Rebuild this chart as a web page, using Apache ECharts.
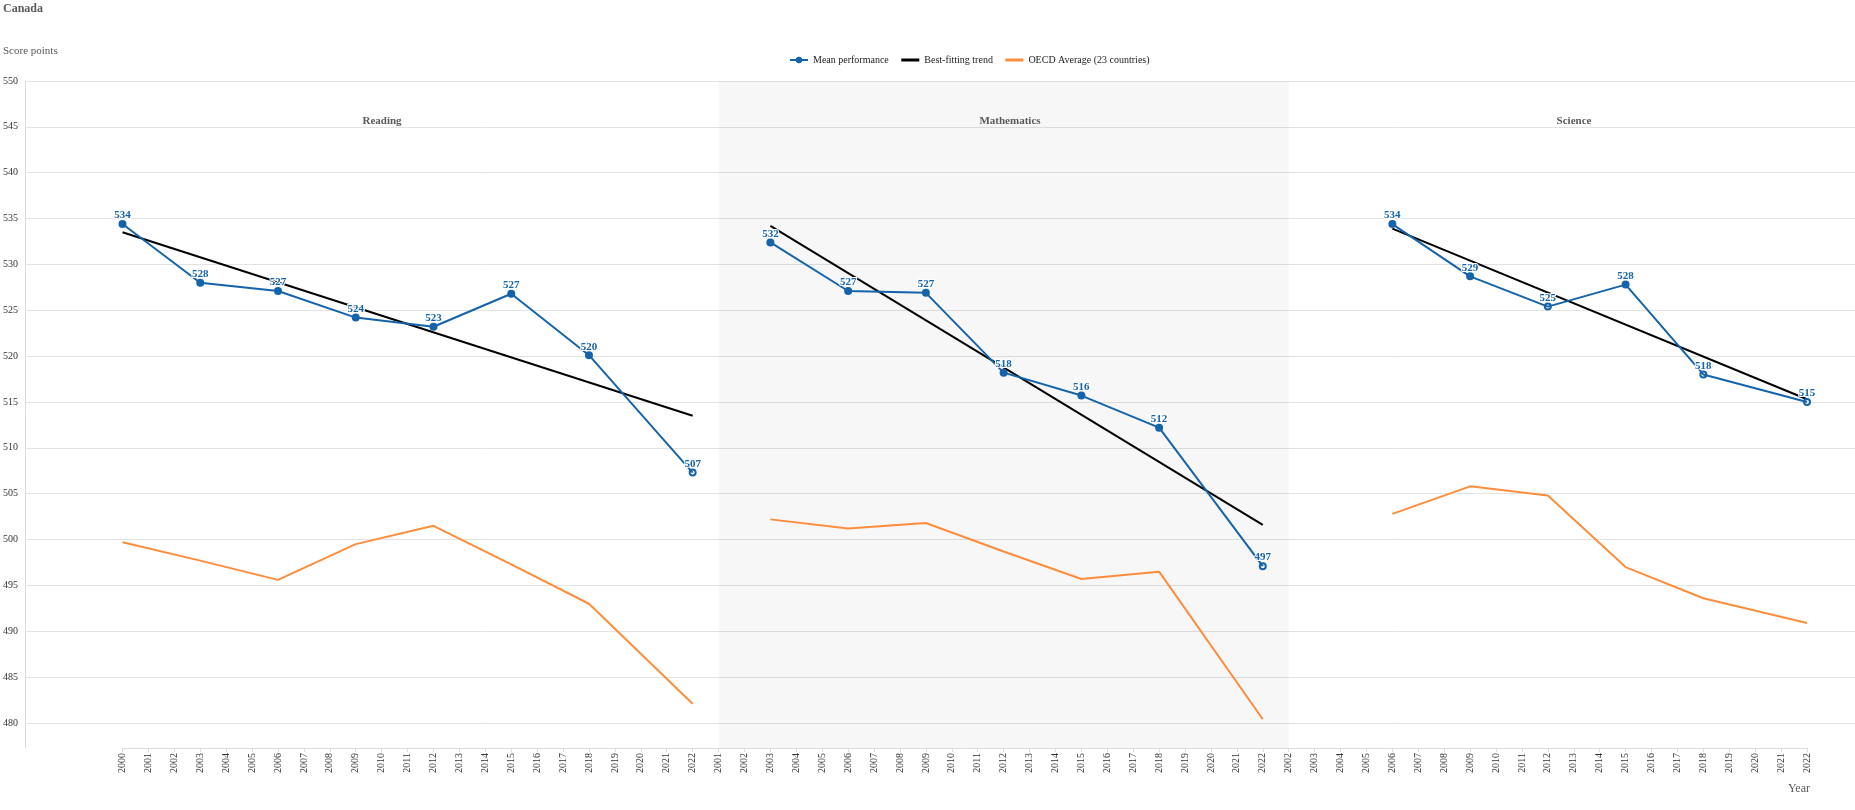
<!DOCTYPE html>
<html>
<head>
<meta charset="utf-8">
<script src="https://cdn.jsdelivr.net/npm/echarts@6/dist/echarts.min.js"></script>
<style>
html,body{margin:0;padding:0;background:#fff;}
#chart{width:1855px;height:810px;}
</style>
</head>
<body>
<div id="chart"></div>
<script>
// ---- tick labels (category axis, one block per panel) ----
const readingTicks = [2000,2001,2002,2003,2004,2005,2006,2007,2008,2009,2010,2011,2012,2013,2014,2015,2016,2017,2018,2019,2020,2021,2022];
const mathTicks    = [2001,2002,2003,2004,2005,2006,2007,2008,2009,2010,2011,2012,2013,2014,2015,2016,2017,2018,2019,2020,2021,2022];
const scienceTicks = [2002,2003,2004,2005,2006,2007,2008,2009,2010,2011,2012,2013,2014,2015,2016,2017,2018,2019,2020,2021,2022];

// ---- Reading ----
const readingYears  = [2000, 2003, 2006, 2009, 2012, 2015, 2018, 2022];
const readingMean   = [534.4, 528.0, 527.1, 524.2, 523.2, 526.8, 520.1, 507.3];
const readingOECD   = [499.7, 497.7, 495.6, 499.5, 501.5, 497.3, 493.0, 482.1];
const readingTrendYears = [2000, 2022];
const readingTrend  = [533.5, 513.5];
const readingHollow = [2022];

// ---- Mathematics ----
const mathYears  = [2003, 2006, 2009, 2012, 2015, 2018, 2022];
const mathMean   = [532.4, 527.1, 526.9, 518.2, 515.7, 512.2, 497.1];
const mathOECD   = [502.2, 501.2, 501.8, 498.7, 495.7, 496.5, 480.4];
const mathTrendYears = [2003, 2022];
const mathTrend  = [534.2, 501.6];
const mathHollow = [2022];

// ---- Science ----
const scienceYears  = [2006, 2009, 2012, 2015, 2018, 2022];
const scienceMean   = [534.4, 528.7, 525.4, 527.8, 518.0, 515.0];
const scienceOECD   = [502.8, 505.8, 504.8, 497.0, 493.6, 490.9];
const scienceTrendYears = [2006, 2022];
const scienceTrend  = [533.9, 515.3];
const scienceHollow = [2012, 2018, 2022];

const FONT = 'Liberation Serif';
const BLUE = '#1563ab';
const ORANGE = '#fd8d3c';
const BLACK = '#000000';

const panels = [
  {name:'Reading', ticks:readingTicks, years:readingYears, mean:readingMean, oecd:readingOECD, tYears:readingTrendYears, trend:readingTrend, hollow:readingHollow, titleX:382},
  {name:'Mathematics', ticks:mathTicks, years:mathYears, mean:mathMean, oecd:mathOECD, tYears:mathTrendYears, trend:mathTrend, hollow:mathHollow, titleX:1010},
  {name:'Science', ticks:scienceTicks, years:scienceYears, mean:scienceMean, oecd:scienceOECD, tYears:scienceTrendYears, trend:scienceTrend, hollow:scienceHollow, titleX:1574}
];

const categories = [];
panels.forEach(p => { p.offset = categories.length; p.ticks.forEach(t => categories.push(String(t))); });
const idx = (p, year) => p.offset + p.ticks.indexOf(year);

const series = [];
panels.forEach((p, k) => {
  series.push({
    name: 'OECD Average (23 countries)', type: 'line', xAxisIndex: 1, yAxisIndex: 1,
    symbol: 'none', z: 2,
    lineStyle: {color: ORANGE, width: 2}, itemStyle: {color: ORANGE},
    data: p.years.map((y, i) => [idx(p, y), p.oecd[i]]),
    markArea: k === 1 ? {
      silent: true,
      itemStyle: {color: 'rgba(0,0,0,0.032)'},
      data: [[{xAxis: p.offset}, {xAxis: panels[2].offset}]]
    } : undefined
  });
  series.push({
    name: 'Best-fitting trend', type: 'line', xAxisIndex: 1, yAxisIndex: 1,
    symbol: 'none', z: 3,
    lineStyle: {color: BLACK, width: 2}, itemStyle: {color: BLACK},
    data: p.tYears.map((y, i) => [idx(p, y), p.trend[i]])
  });
  series.push({
    name: 'Mean performance', type: 'line', xAxisIndex: 1, yAxisIndex: 1,
    symbol: 'circle', symbolSize: 8, z: 4,
    lineStyle: {color: BLUE, width: 2}, itemStyle: {color: BLUE},
    label: {
      show: true, position: 'top', distance: 0, offset: [0, 1],
      fontFamily: FONT, fontSize: 11, fontWeight: 'bold', color: BLUE,
      textBorderColor: '#fff', textBorderWidth: 2,
      formatter: q => String(Math.round(q.value[1]))
    },
    data: p.years.map((y, i) => {
      const d = {value: [idx(p, y), p.mean[i]]};
      if (p.hollow.indexOf(y) >= 0) {
        d.symbolSize = 6;
        d.itemStyle = {color: 'rgba(255,255,255,0)', borderColor: BLUE, borderWidth: 2};
      }
      return d;
    })
  });
});

const titles = [
  {text: 'Canada', left: 3, top: 3, padding: 0, textStyle: {fontFamily: FONT, fontSize: 12, fontWeight: 'bold', color: '#595959'}},
  {text: 'Score points', left: 3, top: 46, padding: 0, textStyle: {fontFamily: FONT, fontSize: 11, fontWeight: 'normal', color: '#595959'}},
  {text: 'Year', right: 45, top: 783, padding: 0, textStyle: {fontFamily: FONT, fontSize: 12, fontWeight: 'normal', color: '#595959'}}
];
panels.forEach(p => titles.push({
  text: p.name, left: p.titleX, top: 116, textAlign: 'center', padding: 0,
  textStyle: {fontFamily: FONT, fontSize: 11, fontWeight: 'bold', color: '#595959'}
}));

const option = {
  animation: false,
  backgroundColor: '#fff',
  title: titles,
  legend: {
    left: 784, top: 50, itemWidth: 18, itemHeight: 8, itemGap: 11,
    textStyle: {fontFamily: FONT, fontSize: 10, color: '#222'},
    data: [
      {name: 'Mean performance'},
      {name: 'Best-fitting trend', itemStyle: {opacity: 0}, lineStyle: {width: 3}},
      {name: 'OECD Average (23 countries)', itemStyle: {opacity: 0}, lineStyle: {width: 3}}
    ]
  },
  grid: [
    {left: 25, right: 0, top: 81, bottom: 62},
    {left: 122.5, right: 48, top: 81, bottom: 62}
  ],
  xAxis: [
    {gridIndex: 0, type: 'value', min: 0, max: 1, show: false},
    {
      gridIndex: 1, type: 'category', data: categories, boundaryGap: false,
      axisLine: {show: true, lineStyle: {color: '#dcdcdc'}},
      axisTick: {show: true, interval: 0, length: 4, lineStyle: {color: '#dcdcdc'}},
      axisLabel: {interval: 0, rotate: 90, margin: 5, fontFamily: FONT, fontSize: 10, color: '#333'},
      splitLine: {show: false}
    }
  ],
  yAxis: [
    {
      gridIndex: 0, type: 'value', min: 477.27, max: 550, splitNumber: 14,
      axisLine: {show: true, lineStyle: {color: '#dcdcdc'}},
      axisTick: {show: false},
      axisLabel: {margin: 7, fontFamily: FONT, fontSize: 10, color: '#333', showMinLabel: false,
        formatter: v => (Math.abs(v % 5) < 1e-6 ? String(v) : '')},
      splitLine: {show: true, showMinLine: false, lineStyle: {color: '#e3e3e3'}}
    },
    {gridIndex: 1, type: 'value', min: 477.27, max: 550, show: false, splitLine: {show: false}}
  ],
  series: series
};

const chart = echarts.init(document.getElementById('chart'), null, {renderer: 'canvas'});
chart.setOption(option);
</script>
</body>
</html>
